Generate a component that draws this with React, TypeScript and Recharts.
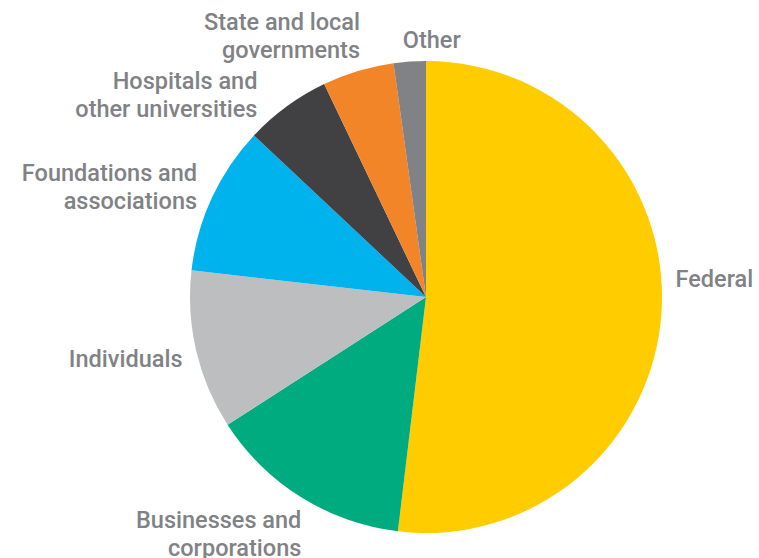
import { PieChart, Pie, Cell } from "recharts";

const sources = [
	"Federal",
	"Businesses and\ncorporations",
	"Individuals",
	"Foundations and\nassociations",
	"Hospitals and\nother universities",
	"State and local\ngovernments",
	"Other",
];
const shares = [51.9, 14.0, 10.9, 10.2, 5.9, 4.9, 2.2];
const colors = [
	"#FFCC00",
	"#00AC7F",
	"#BCBEC0",
	"#00B3ED",
	"#414042",
	"#F28527",
	"#808285",
];

const data = sources.map((name, i) => ({ name, value: shares[i] }));

// hand-placed label offsets (the source chart placed labels manually)
const nudge: Record<string, [number, number]> = {
	Federal: [0, -33],
	"Businesses and\ncorporations": [8, 25],
	Individuals: [0, 5],
	"Foundations and\nassociations": [-2, -5],
	"Hospitals and\nother universities": [-21, 0],
	"State and local\ngovernments": [6, -22],
	Other: [-6, -8],
};

const RAD = Math.PI / 180;
const LINE = 28;

function renderLabel(props: any) {
	const { cx, cy, midAngle, outerRadius, name } = props;
	const r = outerRadius + 14;
	const x0 = cx + r * Math.cos(-midAngle * RAD);
	const y0 = cy + r * Math.sin(-midAngle * RAD);
	const [dx, dy] = nudge[name] ?? [0, 0];
	const x = x0 + dx;
	const lines = String(name).split("\n");
	const top = y0 + dy - ((lines.length - 1) * LINE) / 2;
	const anchor = x0 > cx - 30 ? "start" : "end";
	return (
		<text
			x={x}
			y={top}
			textAnchor={anchor}
			dominantBaseline="central"
			fill="#808285"
			fontFamily="Roboto, sans-serif"
			fontWeight={500}
			fontSize={23.5}
		>
			{lines.map((ln, i) => (
				<tspan key={i} x={x} dy={i === 0 ? 0 : LINE}>
					{ln}
				</tspan>
			))}
		</text>
	);
}

export default function App() {
	return (
		<div style={{ position: "absolute", left: 0, top: 0, background: "#fff" }}>
			<PieChart width={759} height={558}>
				<Pie
					data={data}
					dataKey="value"
					nameKey="name"
					cx={421}
					cy={292}
					outerRadius={236}
					startAngle={90}
					endAngle={-270}
					stroke="none"
					label={renderLabel}
					labelLine={false}
					isAnimationActive={false}
				>
					{data.map((d, i) => (
						<Cell key={d.name} fill={colors[i]} />
					))}
				</Pie>
			</PieChart>
		</div>
	);
}
